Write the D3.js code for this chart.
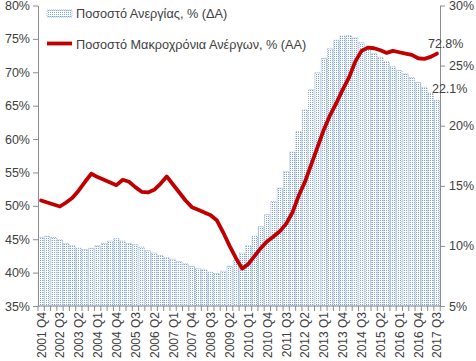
<!DOCTYPE html>
<html>
<head>
<meta charset="utf-8">
<script src="https://cdn.jsdelivr.net/npm/d3@7"></script>
<style>
  html, body { margin: 0; padding: 0; background: #fff; }
  svg { display: block; }
  text { font-family: "Liberation Sans", Arial, sans-serif; fill: #404040; }
</style>
</head>
<body>
<div id="chart"></div>
<script>
// ---- DATA ----
const years = d3.range(2001, 2018);
const quarters = [];
years.forEach(y => ["Q1","Q2","Q3","Q4"].forEach(q => quarters.push(y + " " + q)));
const categories = quarters.slice(quarters.indexOf("2001 Q4"), quarters.indexOf("2017 Q3") + 1);

// Unemployment rate, % (right axis) – bars
const unemployment = [
  10.7, 10.8, 10.7, 10.5, 10.2, 10.0, 9.8, 9.7, 9.8, 10.0,
  10.2, 10.4, 10.6, 10.4, 10.2, 10.1, 9.9, 9.6, 9.4, 9.2,
  9.0, 8.9, 8.7, 8.5, 8.3, 8.1, 8.0, 7.8, 7.7, 7.9,
  8.3, 8.8, 9.4, 10.0, 10.8, 11.6, 12.6, 13.7, 14.8, 16.2,
  17.8, 19.5, 21.3, 23.0, 24.4, 25.6, 26.4, 27.1, 27.45, 27.5,
  27.3, 26.9, 26.4, 26.0, 25.7, 25.3, 24.9, 24.6, 24.3, 24.0,
  23.6, 23.2, 22.7, 22.1
];

// Long-term unemployed share, % (left axis) – line
const longTerm = [
  50.8, 50.5, 50.2, 49.9, 50.5, 51.2, 52.3, 53.6, 54.8, 54.3,
  53.9, 53.5, 53.1, 53.9, 53.6, 52.8, 52.1, 52.0, 52.4, 53.3,
  54.4, 53.2, 52.0, 50.8, 49.8, 49.4, 49.0, 48.6, 47.8, 46.0,
  44.0, 42.2, 40.6, 41.3, 42.5, 43.7, 44.7, 45.4, 46.2, 47.3,
  49.0, 51.5, 53.6, 56.2, 58.8, 61.4, 63.6, 65.4, 67.4, 69.2,
  71.6, 73.2, 73.7, 73.6, 73.3, 72.9, 73.2, 73.0, 72.8, 72.6,
  72.1, 72.0, 72.3, 72.8
];

const leftTicks = [35, 40, 45, 50, 55, 60, 65, 70, 75, 80];
const rightTicks = [5, 10, 15, 20, 25, 30];
const xLabels = categories.filter((d, i) => i % 3 === 0);
const seriesNames = ["Ποσοστό Ανεργίας, % (ΔΑ)", "Ποσοστό Μακροχρόνια Ανέργων, % (ΑΑ)"];
const endLabels = ["72.8%", "22.1%"];

// ---- LAYOUT ----
const W = 476, H = 361;
const mLeft = 38, mRight = 440, mTop = 5.5, mBottom = 306;
const barColor = "#7fa5d6";
const lineColor = "#c00000";
const axisColor = "#8c8c8c";

const svg = d3.select("#chart").append("svg").attr("width", W).attr("height", H);

const defs = svg.append("defs");
const pat = defs.append("pattern").attr("id", "dots")
  .attr("patternUnits", "userSpaceOnUse").attr("width", 2).attr("height", 2);
pat.append("rect").attr("width", 2).attr("height", 2).attr("fill", "#ffffff");
pat.append("rect").attr("width", 1).attr("height", 1).attr("fill", barColor);

const x = d3.scaleBand().domain(categories).range([mLeft, mRight]).paddingInner(0.15).paddingOuter(0.06);
const yL = d3.scaleLinear().domain([35, 80]).range([mBottom, mTop]);
const yR = d3.scaleLinear().domain([5, 30]).range([mBottom, mTop]);

// Bars
svg.append("g").selectAll("rect").data(unemployment).join("rect")
  .attr("x", (d, i) => x(categories[i]))
  .attr("width", x.bandwidth())
  .attr("y", d => yR(d))
  .attr("height", d => yR(5) - yR(d))
  .attr("fill", "url(#dots)")
  .attr("stroke", "#6f98d0")
  .attr("stroke-width", 0.7)
  .attr("stroke-dasharray", "1,1");

// Left axis
const gL = svg.append("g").attr("transform", `translate(${mLeft},0)`)
  .call(d3.axisLeft(yL).tickValues(leftTicks).tickFormat(d => d + "%").tickSize(5).tickSizeOuter(0).tickPadding(3));
// Right axis
const gR = svg.append("g").attr("transform", `translate(${mRight},0)`)
  .call(d3.axisRight(yR).tickValues(rightTicks).tickFormat(d => d + "%").tickSize(5).tickSizeOuter(0).tickPadding(4));
[gL, gR].forEach(g => {
  g.select(".domain").attr("stroke", axisColor);
  g.selectAll(".tick line").attr("stroke", axisColor);
  g.selectAll(".tick text").attr("font-size", 12.5).attr("fill", "#404040")
    .style("font-family", '"Liberation Sans", Arial, sans-serif');
});

// Bottom axis
const gB = svg.append("g");
gB.append("line").attr("x1", mLeft).attr("x2", mRight).attr("y1", mBottom).attr("y2", mBottom).attr("stroke", axisColor);
const step = x.step();
const x0 = x(categories[0]) - x.paddingOuter() * step;
gB.selectAll("line.tk").data(d3.range(categories.length + 1)).join("line")
  .attr("class", "tk")
  .attr("x1", k => x0 + k * step).attr("x2", k => x0 + k * step)
  .attr("y1", mBottom).attr("y2", mBottom + 5).attr("stroke", axisColor);
gB.selectAll("text").data(xLabels).join("text")
  .attr("transform", d => `translate(${x(d) + x.bandwidth() / 2 + 4.5},${mBottom + 6}) rotate(-90)`)
  .attr("text-anchor", "end")
  .attr("font-size", 12)
  .text(d => d);

// Line
const line = d3.line()
  .x((d, i) => x(categories[i]) + x.bandwidth() / 2)
  .y(d => yL(d));
svg.append("path").datum(longTerm)
  .attr("d", line)
  .attr("fill", "none")
  .attr("stroke", lineColor)
  .attr("stroke-width", 3.8)
  .attr("stroke-linejoin", "round")
  .attr("stroke-linecap", "round");

// End labels
const lastX = x(categories[categories.length - 1]) + x.bandwidth() / 2;
svg.append("text").attr("x", lastX - 9).attr("y", yL(longTerm[longTerm.length - 1]) - 6)
  .attr("font-size", 12.5).text(endLabels[0]);
svg.append("text").attr("x", lastX - 5).attr("y", yR(unemployment[unemployment.length - 1]) - 7)
  .attr("font-size", 12.5).text(endLabels[1]);

// Legend
const lg = svg.append("g");
lg.append("rect").attr("x", 47).attr("y", 10).attr("width", 25).attr("height", 7)
  .attr("fill", "url(#dots)").attr("stroke", "#6f98d0").attr("stroke-width", 0.7).attr("stroke-dasharray", "1,1");
lg.append("text").attr("x", 76).attr("y", 18).attr("font-size", 12.7).text(seriesNames[0]);
lg.append("line").attr("x1", 47).attr("x2", 72).attr("y1", 43.5).attr("y2", 43.5)
  .attr("stroke", lineColor).attr("stroke-width", 3.8);
lg.append("text").attr("x", 76).attr("y", 48.5).attr("font-size", 12.7).text(seriesNames[1]);
</script>
</body>
</html>
